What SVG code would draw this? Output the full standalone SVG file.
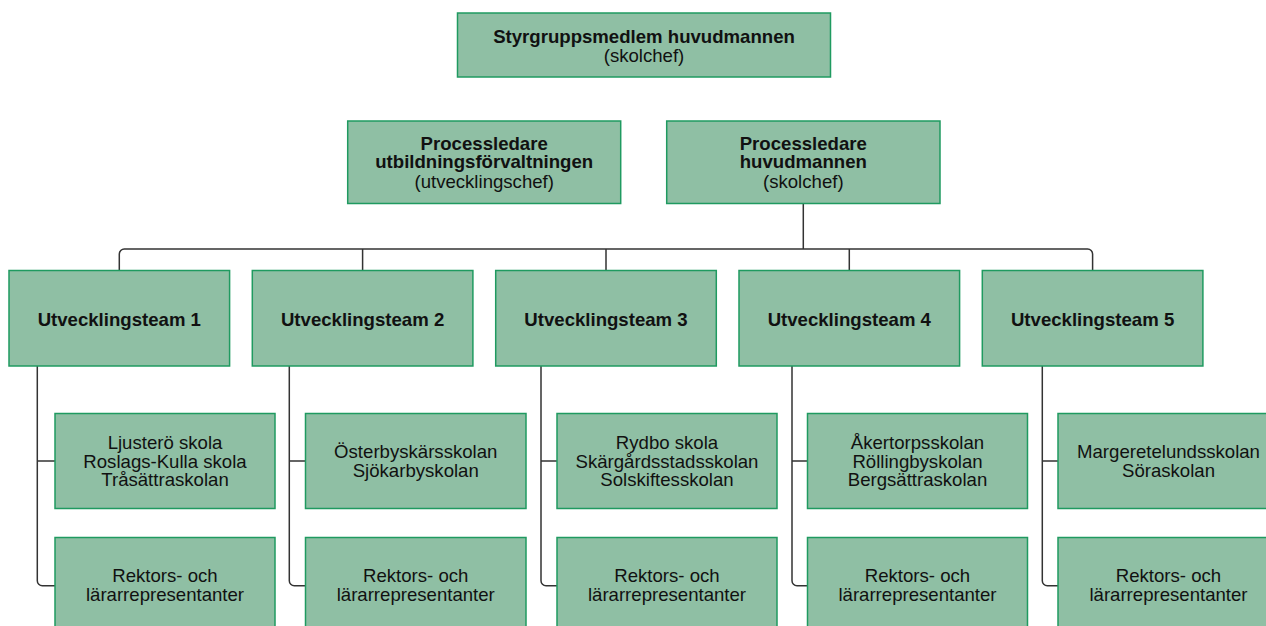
<svg xmlns="http://www.w3.org/2000/svg" width="1266" height="626" viewBox="0 0 1266 626">
<style>
.box{fill:#8fbfa4;stroke:#1f9a60;stroke-width:1.5}
.t{font-family:"Liberation Sans",Arial,sans-serif;font-size:18.6px;fill:#111;text-anchor:middle}
.b{font-weight:bold}
.c{fill:none;stroke:#333;stroke-width:1.5}
</style>
<rect width="1266" height="626" fill="#fff"/>
<g id="connectors">
<path class="c" d="M119.3,270 V254 A5,5 0 0 1 124.3,249 H1087.6 A5,5 0 0 1 1092.6,254 V270"/>
<path class="c" d="M362.6,249 V270 M606,249 V270 M849.3,249 V270 M803.3,203.5 V249"/>
<path class="c" d="M37.3,366 V580.7 A5,5 0 0 0 42.3,585.7 H55 M37.3,461 H55"/>
<path class="c" d="M289.3,366 V580.7 A5,5 0 0 0 294.3,585.7 H305.5 M289.3,461 H305.5"/>
<path class="c" d="M541,366 V580.7 A5,5 0 0 0 546,585.7 H557 M541,461 H557"/>
<path class="c" d="M792,366 V580.7 A5,5 0 0 0 797,585.7 H807.5 M792,461 H807.5"/>
<path class="c" d="M1042.3,366 V580.7 A5,5 0 0 0 1047.3,585.7 H1058 M1042.3,461 H1058"/>
</g>
<g id="styrgrupp">
<rect class="box" x="457.5" y="13" width="373" height="64"/>
<text class="t b" x="644" y="43">Styrgruppsmedlem huvudmannen</text>
<text class="t" x="644" y="62">(skolchef)</text>
</g>
<g id="processledare-utb">
<rect class="box" x="347.7" y="121" width="273" height="82.5"/>
<text class="t b" x="484.2" y="149.5">Processledare</text>
<text class="t b" x="484.2" y="168">utbildningsförvaltningen</text>
<text class="t" x="484.2" y="188">(utvecklingschef)</text>
</g>
<g id="processledare-huv">
<rect class="box" x="666.7" y="121" width="273.3" height="82.5"/>
<text class="t b" x="803.3" y="149.5">Processledare</text>
<text class="t b" x="803.3" y="168">huvudmannen</text>
<text class="t" x="803.3" y="188">(skolchef)</text>
</g>
<g id="team1">
<rect class="box" x="9" y="270.5" width="220.6" height="95.5"/>
<text class="t b" x="119.3" y="326">Utvecklingsteam 1</text>
</g>
<g id="team2">
<rect class="box" x="252.3" y="270.5" width="220.6" height="95.5"/>
<text class="t b" x="362.6" y="326">Utvecklingsteam 2</text>
</g>
<g id="team3">
<rect class="box" x="495.7" y="270.5" width="220.6" height="95.5"/>
<text class="t b" x="606" y="326">Utvecklingsteam 3</text>
</g>
<g id="team4">
<rect class="box" x="739" y="270.5" width="220.6" height="95.5"/>
<text class="t b" x="849.3" y="326">Utvecklingsteam 4</text>
</g>
<g id="team5">
<rect class="box" x="982.3" y="270.5" width="220.6" height="95.5"/>
<text class="t b" x="1092.6" y="326">Utvecklingsteam 5</text>
</g>
<g id="skolor1">
<rect class="box" x="55" y="413.5" width="220" height="95"/>
<text class="t" x="165" y="448.5">Ljusterö skola</text>
<text class="t" x="165" y="467.5">Roslags-Kulla skola</text>
<text class="t" x="165" y="486">Tråsättraskolan</text>
</g>
<g id="skolor2">
<rect class="box" x="305.5" y="413.5" width="220.5" height="95"/>
<text class="t" x="415.75" y="458">Österbyskärsskolan</text>
<text class="t" x="415.75" y="477">Sjökarbyskolan</text>
</g>
<g id="skolor3">
<rect class="box" x="557" y="413.5" width="220" height="95"/>
<text class="t" x="667" y="448.5">Rydbo skola</text>
<text class="t" x="667" y="467.5">Skärgårdsstadsskolan</text>
<text class="t" x="667" y="486">Solskiftesskolan</text>
</g>
<g id="skolor4">
<rect class="box" x="807.5" y="413.5" width="220" height="95"/>
<text class="t" x="917.5" y="448.5">Åkertorpsskolan</text>
<text class="t" x="917.5" y="467.5">Röllingbyskolan</text>
<text class="t" x="917.5" y="486">Bergsättraskolan</text>
</g>
<g id="skolor5">
<rect class="box" x="1058" y="413.5" width="220" height="95"/>
<text class="t" x="1168.5" y="458">Margeretelundsskolan</text>
<text class="t" x="1168.5" y="477">Söraskolan</text>
</g>
<g id="rektor1">
<rect class="box" x="55" y="537.5" width="220" height="95"/>
<text class="t" x="165" y="581.5">Rektors- och</text>
<text class="t" x="165" y="600.5">lärarrepresentanter</text>
</g>
<g id="rektor2">
<rect class="box" x="305.5" y="537.5" width="220.5" height="95"/>
<text class="t" x="415.75" y="581.5">Rektors- och</text>
<text class="t" x="415.75" y="600.5">lärarrepresentanter</text>
</g>
<g id="rektor3">
<rect class="box" x="557" y="537.5" width="220" height="95"/>
<text class="t" x="667" y="581.5">Rektors- och</text>
<text class="t" x="667" y="600.5">lärarrepresentanter</text>
</g>
<g id="rektor4">
<rect class="box" x="807.5" y="537.5" width="220" height="95"/>
<text class="t" x="917.5" y="581.5">Rektors- och</text>
<text class="t" x="917.5" y="600.5">lärarrepresentanter</text>
</g>
<g id="rektor5">
<rect class="box" x="1058" y="537.5" width="220" height="95"/>
<text class="t" x="1168.5" y="581.5">Rektors- och</text>
<text class="t" x="1168.5" y="600.5">lärarrepresentanter</text>
</g>
</svg>
